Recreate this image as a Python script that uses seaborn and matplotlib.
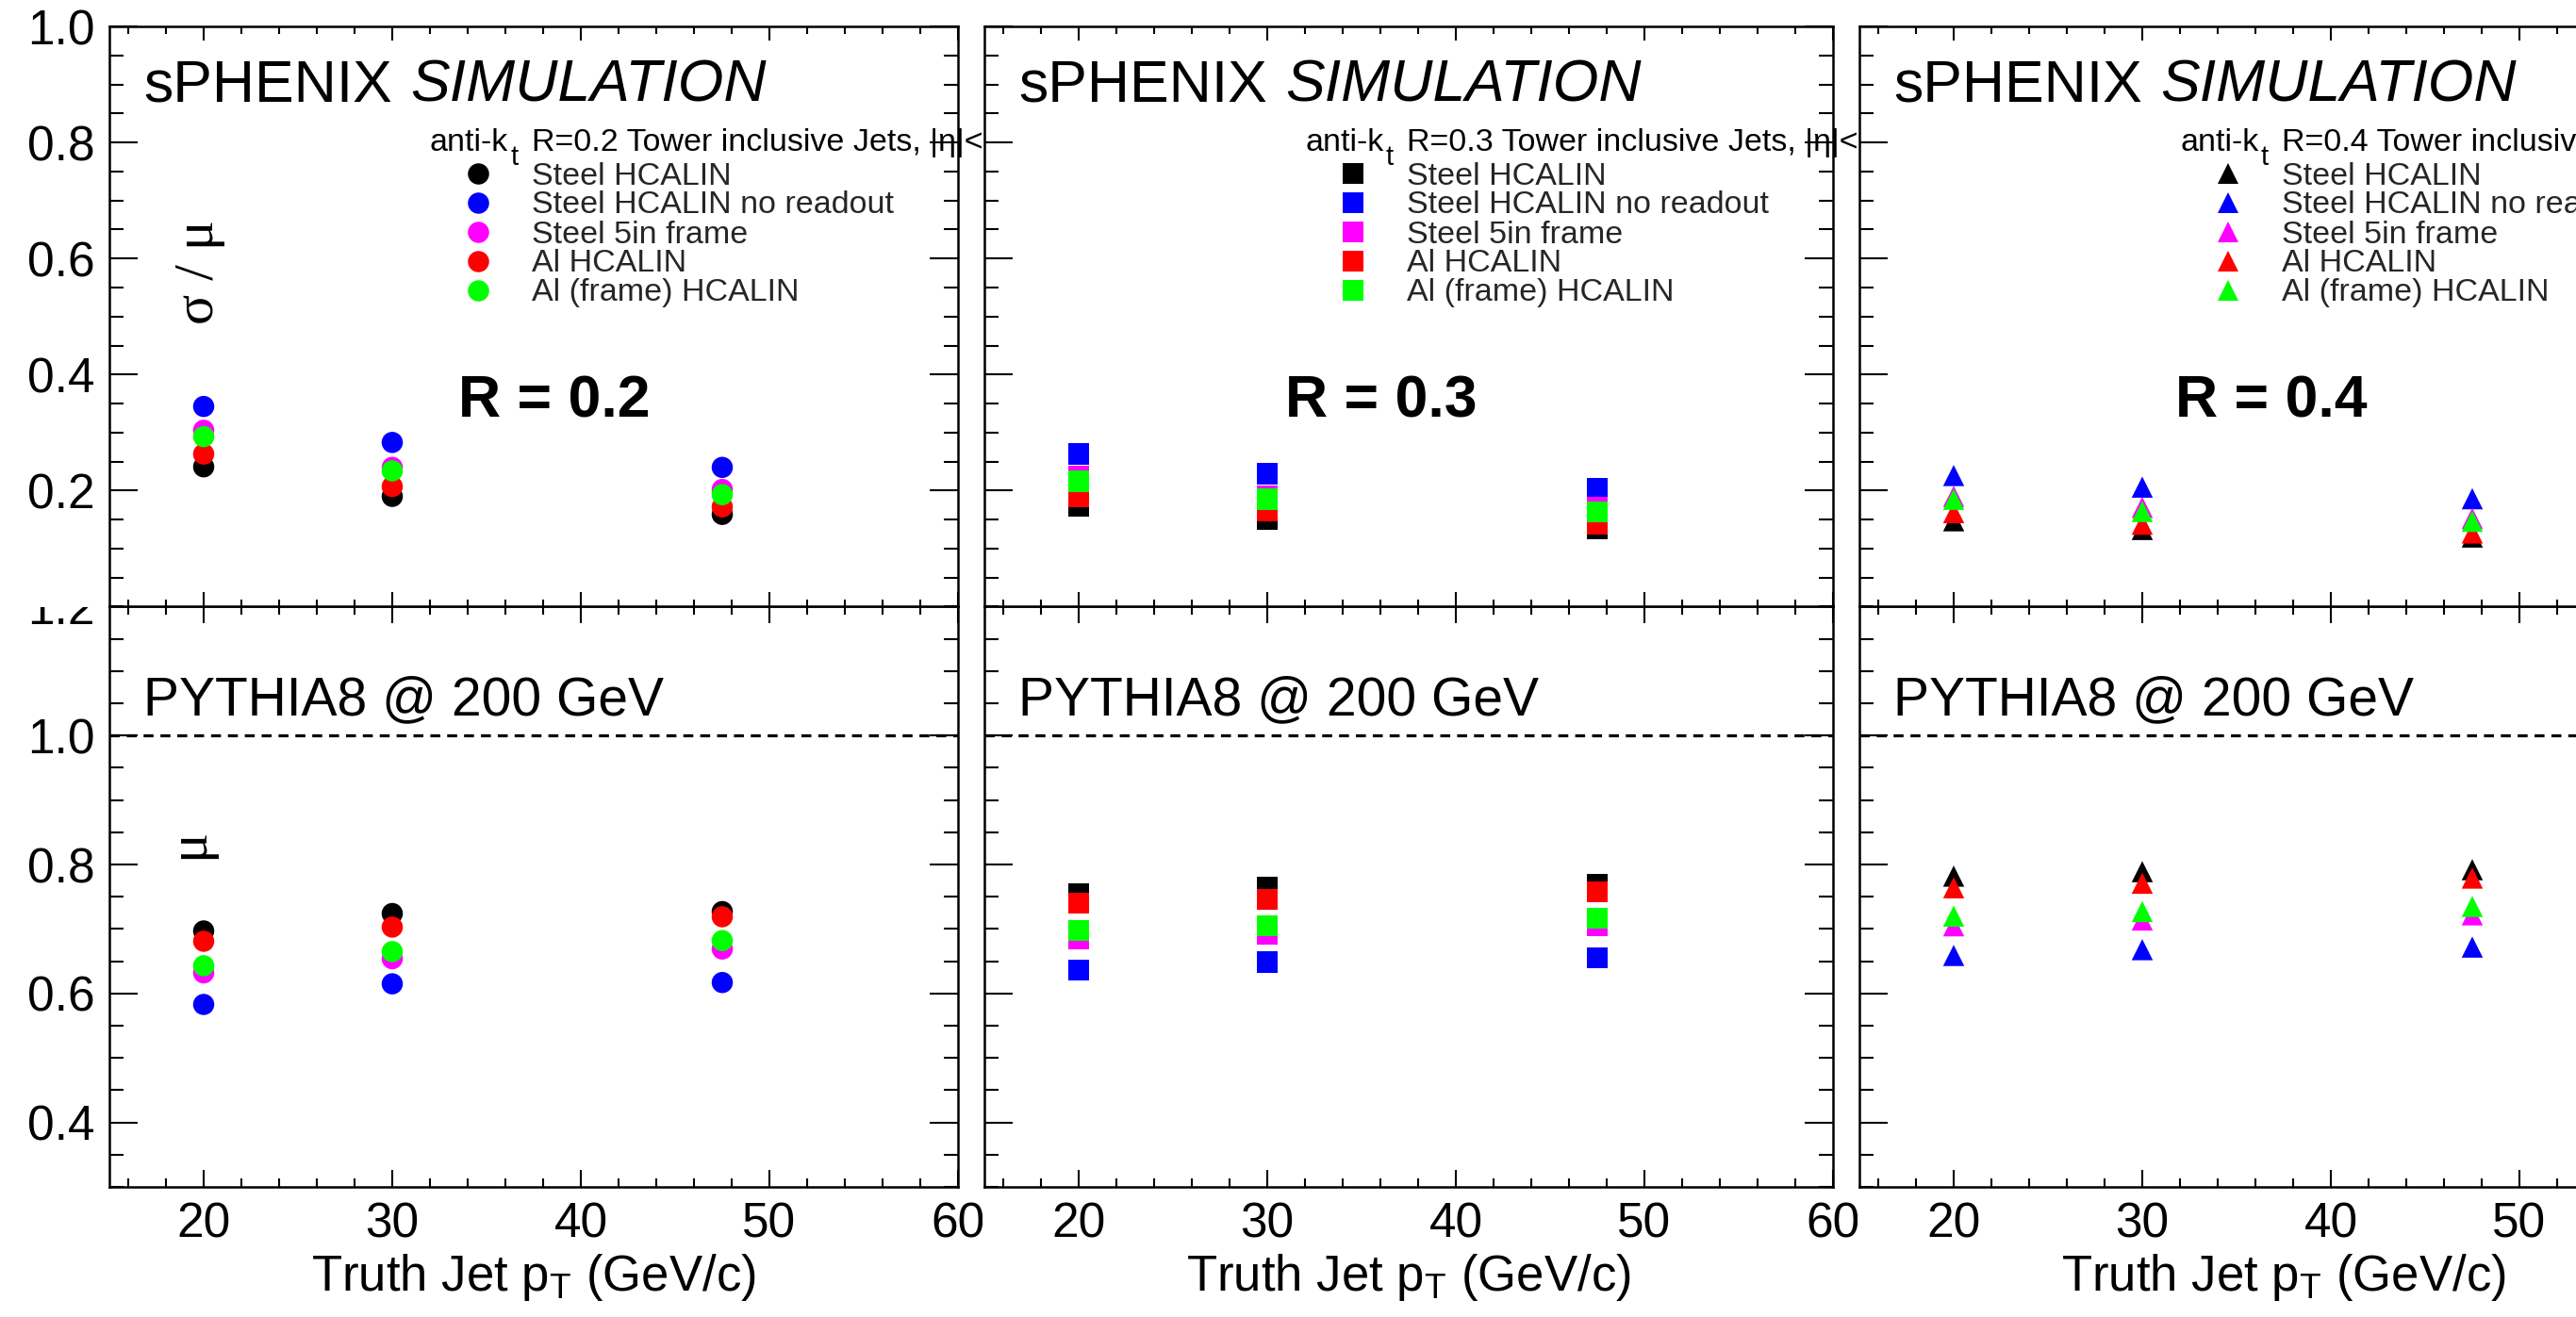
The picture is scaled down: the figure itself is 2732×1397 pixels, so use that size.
import numpy as np
import pandas as pd
import matplotlib
matplotlib.use("Agg")
import matplotlib.pyplot as plt
import seaborn as sns
from matplotlib.lines import Line2D
from matplotlib.transforms import Bbox, TransformedBbox
from matplotlib.ticker import MultipleLocator, FixedLocator, FormatStrFormatter

# ---------------- data ----------------
pt = [20, 30, 47.5]
configs = ["Steel HCALIN", "Steel HCALIN no readout", "Steel 5in frame",
           "Al HCALIN", "Al (frame) HCALIN"]
colors = ["#000000", "#0000ff", "#ff00ff", "#ff0000", "#00ff00"]
radii = ["0.2", "0.3", "0.4"]
markers = ["o", "s", "^"]

# sigma/mu  (rows follow `configs`)
res_r02 = [[0.241, 0.190, 0.159], [0.345, 0.283, 0.240], [0.304, 0.240, 0.202],
           [0.263, 0.207, 0.172], [0.293, 0.234, 0.193]]
res_r03 = [[0.174, 0.151, 0.134], [0.263, 0.229, 0.203], [0.225, 0.191, 0.171],
           [0.189, 0.165, 0.143], [0.216, 0.185, 0.163]]
res_r04 = [[0.148, 0.133, 0.120], [0.226, 0.206, 0.186], [0.190, 0.171, 0.152],
           [0.162, 0.142, 0.127], [0.185, 0.164, 0.147]]
# mu
scale_r02 = [[0.697, 0.724, 0.727], [0.583, 0.615, 0.617], [0.632, 0.654, 0.669],
             [0.681, 0.703, 0.719], [0.643, 0.665, 0.682]]
scale_r03 = [[0.755, 0.765, 0.769], [0.636, 0.649, 0.655], [0.685, 0.692, 0.706],
             [0.740, 0.746, 0.758], [0.698, 0.705, 0.717]]
scale_r04 = [[0.782, 0.789, 0.792], [0.659, 0.668, 0.672], [0.705, 0.714, 0.722],
             [0.764, 0.771, 0.779], [0.720, 0.727, 0.735]]

res_all = [res_r02, res_r03, res_r04]
scale_all = [scale_r02, scale_r03, scale_r04]

x_major = [20, 30, 40, 50, 60]
top_yticks = [0.2, 0.4, 0.6, 0.8, 1.0]
bot_yticks = [0.4, 0.6, 0.8, 1.0, 1.2]

# ---------------- style ----------------
sns.set_style("ticks")
plt.rcParams["font.family"] = ["Liberation Sans", "DejaVu Sans"]
plt.rcParams["mathtext.fontset"] = "custom"
plt.rcParams["mathtext.rm"] = "Liberation Sans"
plt.rcParams["mathtext.it"] = "Liberation Sans:italic"
plt.rcParams["mathtext.bf"] = "Liberation Sans:bold"
plt.rcParams["mathtext.default"] = "regular"

W, H = 2732, 1397
fig = plt.figure(figsize=(W / 100, H / 100), dpi=100)
fig.patch.set_facecolor("white")
PX = 0.72  # points per pixel at dpi 100

lefts = [116, 1044, 1972]
AW = 900
TOP0, MID, BOT1 = 28.0, 643.5, 1259.0
palette = dict(zip(configs, colors))
LEG_FS = 24.5


def pix_box(x0, y0, x1, y1):
    """rectangle in image pixels (y from top) -> display-space bbox"""
    return TransformedBbox(Bbox([[x0 / W, 1 - y1 / H], [x1 / W, 1 - y0 / H]]),
                           fig.transFigure)


def style_axes(ax, ylim, yticks, xlab, ylab, xlen):
    ax.set_xlim(15, 60)
    ax.set_ylim(*ylim)
    ax.xaxis.set_major_locator(FixedLocator(x_major))
    ax.xaxis.set_minor_locator(MultipleLocator(2))
    ax.yaxis.set_major_locator(FixedLocator(yticks))
    ax.yaxis.set_minor_locator(MultipleLocator(0.05))
    ax.yaxis.set_major_formatter(FormatStrFormatter("%.1f"))
    ax.tick_params(axis="both", which="both", direction="in", top=True, right=True,
                   bottom=True, left=True, width=1.5, color="black",
                   labelsize=37, labelcolor="black")
    ax.tick_params(axis="y", which="major", length=30 * PX, pad=11)
    ax.tick_params(axis="y", which="minor", length=15 * PX)
    ax.tick_params(axis="x", which="major", length=xlen * PX, pad=11)
    ax.tick_params(axis="x", which="minor", length=xlen / 2 * PX)
    ax.tick_params(labelbottom=xlab, labelleft=ylab, labeltop=False, labelright=False)
    for s in ax.spines.values():
        s.set_visible(True)
        s.set_linewidth(1.8)
        s.set_color("black")
    ax.set_xlabel("")
    ax.set_ylabel("")
    ax.grid(False)
    ax.set_facecolor("white")


for i in range(3):
    L = lefts[i]
    ax_b = fig.add_axes([L / W, (H - BOT1) / H, AW / W, (BOT1 - MID) / H])
    ax_t = fig.add_axes([L / W, (H - MID) / H, AW / W, (MID - TOP0) / H])
    ax_b.set_zorder(0)
    ax_t.set_zorder(1)

    for ax, vals in ((ax_t, res_all[i]), (ax_b, scale_all[i])):
        df = pd.DataFrame({
            "pt": np.tile(pt, len(configs)),
            "val": np.concatenate([np.asarray(v, float) for v in vals]),
            "config": np.repeat(configs, len(pt)),
        })
        sns.scatterplot(data=df, x="pt", y="val", hue="config", hue_order=configs,
                        palette=palette, marker=markers[i], s=262, linewidth=0,
                        legend=False, ax=ax, zorder=3)

    style_axes(ax_t, (0.0, 1.0), top_yticks, False, i == 0, 15)
    style_axes(ax_b, (0.3, 1.2), bot_yticks, True, i == 0, 18)

    ax_b.axhline(1.0, color="black", lw=2.3, ls=(0, (3.3, 2.3)), zorder=2)

    # helpers for pixel -> axes fraction
    fxa = lambda px: px / AW
    fyt = lambda py: (MID - py) / (MID - TOP0)
    fyb = lambda py: (BOT1 - py) / (BOT1 - MID)

    # sPHENIX SIMULATION
    ax_t.text(fxa(36), fyt(107.5), "sPHENIX", transform=ax_t.transAxes,
              fontsize=45, va="baseline", ha="left", color="black")
    ax_t.text(fxa(319), fyt(107.5), "SIMULATION", transform=ax_t.transAxes,
              fontsize=45, style="italic", va="baseline", ha="left", color="black")

    # legend header (clipped at the pad edge)
    clip = pix_box(L, 0, L + AW + 27, MID)
    h1 = fig.text(fxa(340), fyt(160), "anti-k", transform=ax_t.transAxes,
                  fontsize=LEG_FS, va="baseline", ha="left", color="black")
    h2 = fig.text(fxa(425), fyt(175), "t", transform=ax_t.transAxes,
                  fontsize=21, va="baseline", ha="left", color="black")
    h3 = fig.text(fxa(448), fyt(160),
                  "R=%s Tower inclusive Jets, |\u03b7|<0.6" % radii[i],
                  transform=ax_t.transAxes, fontsize=LEG_FS, va="baseline",
                  ha="left", color="black")
    for h in (h1, h2, h3):
        h.set_clip_box(clip)
        h.set_clip_on(True)

    handles = [Line2D([], [], linestyle="none", marker=markers[i], markersize=16.2,
                      markeredgewidth=0, color=c) for c in colors]
    ax_t.legend(handles, configs, loc="upper left",
                bbox_to_anchor=(fxa(374), fyt(171.5)), frameon=False, fontsize=LEG_FS,
                handlelength=1.0, handletextpad=1.18, labelspacing=0.0,
                borderpad=0, borderaxespad=0, numpoints=1)

    # R = 0.x
    r_x = [370, 319, 335][i]
    ax_t.text(fxa(r_x), fyt(442.7), "R = %s" % radii[i], transform=ax_t.transAxes,
              fontsize=45, fontweight="bold", va="baseline", ha="left", color="black")

    # PYTHIA8
    ax_b.text(fxa(36), fyb(758), "PYTHIA8 @ 200 GeV", transform=ax_b.transAxes,
              fontsize=41, va="baseline", ha="left", color="black")

    # x label
    ax_b.set_xlabel("Truth Jet $p_{T}$ (GeV/c)", fontsize=38, color="black")
    ax_b.xaxis.set_label_coords(0.5, fyb(1369))
    ax_b.xaxis.label.set_va("baseline")

    # clip tick labels at the pad boundaries
    for lab in ax_b.get_xticklabels():
        lab.set_clip_box(pix_box(L - 27, MID, L + AW + 26, H))
        lab.set_clip_on(True)
    for lab in ax_b.get_yticklabels():
        lab.set_clip_box(pix_box(0, MID, L + AW, H))
        lab.set_clip_on(True)

    if i == 0:
        fig.text(212 / W, 1 - 289 / H, "\u03c3 / \u03bc", rotation=90, ha="center",
                 va="center", fontsize=43, family=["Liberation Serif", "DejaVu Serif"],
                 color="black")
        fig.text(201 / W, 1 - 894.5 / H, "\u03bc", rotation=90, ha="center",
                 va="center", fontsize=43, family=["Liberation Serif", "DejaVu Serif"],
                 color="black")

fig.savefig("out.png", dpi=100, facecolor="white")
